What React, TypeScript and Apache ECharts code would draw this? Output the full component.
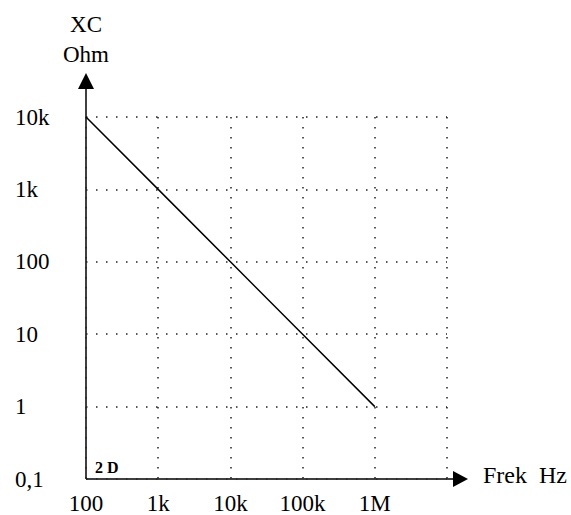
import React, { useEffect, useRef } from "react";
import * as echarts from "echarts";

const freqHz = [100, 1000, 10000, 100000, 1000000];
const xcOhm = [10000, 1000, 100, 10, 1];
const xTickValues = [100, 1000, 10000, 100000, 1000000, 10000000];
const xTickLabels = ["100", "1k", "10k", "100k", "1M", ""];
const yTickValues = [0.1, 1, 10, 100, 1000, 10000];
const yTickLabels = ["0,1", "1", "10", "100", "1k", "10k"];

const FONT = "Liberation Serif";
const W = 571;
const H = 515;
const G = { left: 86, top: 117, right: 124, bottom: 36 };

function lookup(vals: number[], labels: string[], v: number) {
  let best = 0;
  let bd = Infinity;
  vals.forEach((t, i) => {
    const d = Math.abs(Math.log10(t) - Math.log10(v));
    if (d < bd) {
      bd = d;
      best = i;
    }
  });
  return bd < 0.01 ? labels[best] : "";
}

export default function App() {
  const ref = useRef<HTMLDivElement>(null);
  useEffect(() => {
    if (!ref.current) return;
    const chart = echarts.init(ref.current, undefined, { renderer: "svg" });
    const x0 = G.left;
    const y0 = H - G.bottom;
    const dotted = { color: "#222", width: 1.5, type: [1.5, 8.5] as any };
    chart.setOption({
      animation: false,
      backgroundColor: "#fff",
      textStyle: { fontFamily: FONT },
      grid: { left: G.left, top: G.top, right: G.right, bottom: G.bottom },
      xAxis: {
        type: "log",
        logBase: 10,
        min: 100,
        max: 10000000,
        axisLine: { show: false },
        axisTick: { show: false },
        splitLine: { show: true, lineStyle: dotted },
        axisLabel: {
          color: "#000",
          fontFamily: FONT,
          fontSize: 23,
          margin: 13,
          formatter: (v: number) => lookup(xTickValues, xTickLabels, v),
        },
      },
      yAxis: {
        type: "log",
        logBase: 10,
        min: 0.1,
        max: 10000,
        axisLine: { show: false },
        axisTick: { show: false },
        splitLine: { show: true, lineStyle: dotted },
        axisLabel: {
          color: "#000",
          fontFamily: FONT,
          fontSize: 23,
          align: "left",
          margin: 71,
          verticalAlign: "middle",
          padding: [0, 0, 18, 0],
          formatter: (v: number) => lookup(yTickValues, yTickLabels, v),
        },
      },
      series: [
        {
          type: "line",
          data: freqHz.map((f, i) => [f, xcOhm[i]]),
          symbol: "none",
          lineStyle: { color: "#000", width: 1.5 },
        },
      ],
      graphic: [
        {
          type: "line",
          shape: { x1: x0, y1: y0, x2: x0, y2: 88 },
          style: { stroke: "#000", lineWidth: 1.5 },
        },
        {
          type: "polygon",
          shape: { points: [[x0, 73], [x0 - 8, 89], [x0 + 8, 89]] },
          style: { fill: "#000" },
        },
        {
          type: "line",
          shape: { x1: x0, y1: y0, x2: 455, y2: y0 },
          style: { stroke: "#000", lineWidth: 1.5 },
        },
        {
          type: "polygon",
          shape: { points: [[468, y0], [453, y0 - 8], [453, y0 + 8]] },
          style: { fill: "#000" },
        },
        {
          type: "text",
          x: x0,
          y: 39,
          style: {
            text: "XC\nOhm",
            fontFamily: FONT,
            fontSize: 23,
            fill: "#000",
            align: "center",
            verticalAlign: "middle",
            lineHeight: 30,
          },
        },
        {
          type: "text",
          x: 483,
          y: 475,
          style: {
            text: "Frek  Hz",
            fontFamily: FONT,
            fontSize: 24,
            fill: "#000",
            align: "left",
            verticalAlign: "middle",
          },
        },
        {
          type: "text",
          x: 95,
          y: 467,
          style: {
            text: "2 D",
            fontFamily: FONT,
            fontSize: 16,
            fontWeight: "bold",
            fill: "#000",
            align: "left",
            verticalAlign: "middle",
          },
        },
      ],
    });
    return () => chart.dispose();
  }, []);
  return (
    <div
      ref={ref}
      style={{ position: "fixed", left: 0, top: 0, width: W, height: H }}
    />
  );
}
